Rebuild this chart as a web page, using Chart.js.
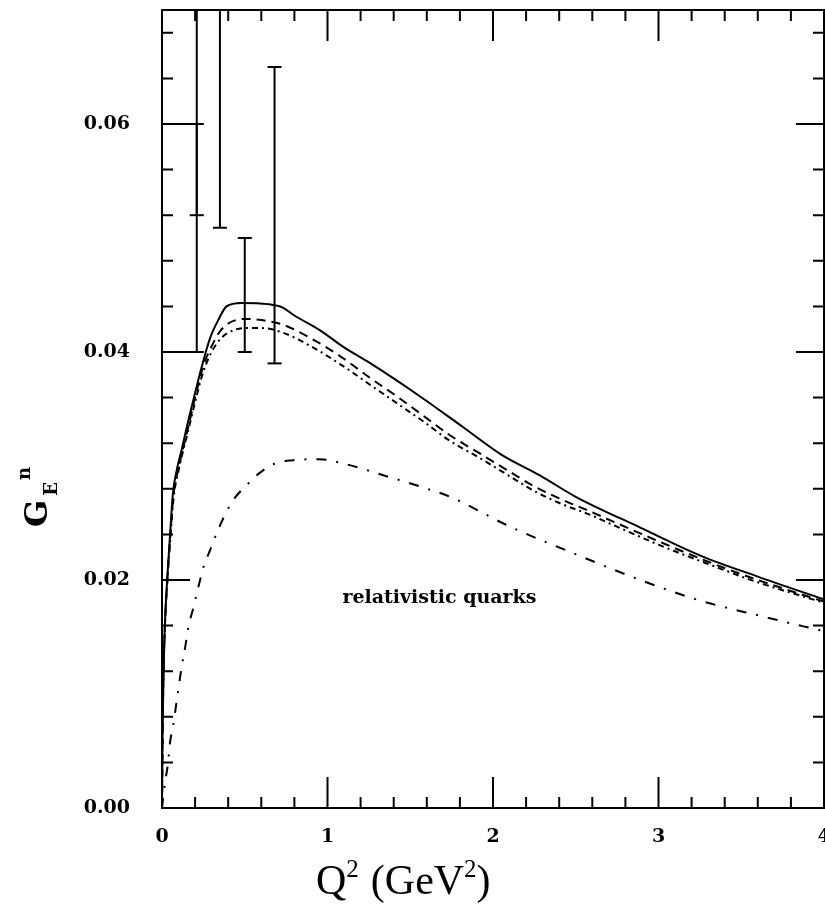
<!DOCTYPE html>
<html>
<head>
<meta charset="utf-8">
<script src="https://cdn.jsdelivr.net/npm/chart.js@4/dist/chart.umd.min.js"></script>
<style>
  html, body { margin: 0; padding: 0; background: #fff; overflow: hidden; }
  #wrap { width: 825px; height: 918px; overflow: hidden; }
</style>
</head>
<body>
<div id="wrap"><canvas id="gen" width="850" height="918"></canvas></div>
<script>
// Neutron electric form factor vs Q^2, relativistic quark model curves
const solidQ2 = [0, 0.003, 0.008, 0.017, 0.035, 0.048, 0.066, 0.09, 0.12, 0.156, 0.2, 0.24, 0.29, 0.34, 0.39, 0.48, 0.64, 0.73, 0.8, 0.955, 1.1, 1.26, 1.56, 1.82, 2.05, 2.28, 2.5, 2.89, 3.26, 3.6, 4.0];
const solidG  = [0, 0.006, 0.011, 0.0159, 0.0209, 0.0238, 0.0276, 0.0297, 0.0315, 0.0338, 0.0364, 0.0387, 0.0412, 0.0428, 0.044, 0.0443, 0.0442, 0.0439, 0.0432, 0.0419, 0.0404, 0.039, 0.0361, 0.0334, 0.0310, 0.0292, 0.0273, 0.0246, 0.0221, 0.0203, 0.0183];

const dashQ2  = [0, 0.003, 0.008, 0.017, 0.035, 0.05, 0.07, 0.1, 0.16, 0.2, 0.25, 0.3, 0.35, 0.4, 0.5, 0.6, 0.73, 0.9, 1.08, 1.26, 1.42, 1.58, 1.74, 1.92, 2.09, 2.25, 2.41, 2.59, 2.73, 3.0, 3.3, 3.6, 4.0];
const dashAG  = [0, 0.006, 0.011, 0.0158, 0.0207, 0.0238, 0.0275, 0.0298, 0.0335, 0.036, 0.0388, 0.0405, 0.0418, 0.0425, 0.0429, 0.0428, 0.0424, 0.0412, 0.0396, 0.0377, 0.0361, 0.0344, 0.0327, 0.0311, 0.0296, 0.0282, 0.0271, 0.0260, 0.0251, 0.0234, 0.0216, 0.0200, 0.0181];
const dashBG  = [0, 0.006, 0.011, 0.0157, 0.0205, 0.0236, 0.0272, 0.0296, 0.0332, 0.0356, 0.0383, 0.0400, 0.0411, 0.0417, 0.0421, 0.0421, 0.0417, 0.0405, 0.0389, 0.0371, 0.0355, 0.0339, 0.0322, 0.0307, 0.0292, 0.0278, 0.0267, 0.0257, 0.0248, 0.0231, 0.0214, 0.0198, 0.0180];

const dotQ2   = [0, 0.018, 0.036, 0.048, 0.067, 0.09, 0.12, 0.14, 0.16, 0.19, 0.22, 0.25, 0.29, 0.33, 0.38, 0.44, 0.51, 0.59, 0.68, 0.79, 0.95, 1.1, 1.38, 1.56, 1.74, 2.1, 2.51, 2.89, 3.25, 3.63, 4.0];
const dotG    = [0, 0.0022, 0.0039, 0.0057, 0.0072, 0.0095, 0.0125, 0.0141, 0.0159, 0.0176, 0.0194, 0.0211, 0.0226, 0.0241, 0.0257, 0.0272, 0.0283, 0.0294, 0.0302, 0.0305, 0.0306, 0.0302, 0.0290, 0.0282, 0.0273, 0.0247, 0.0222, 0.0200, 0.0182, 0.0168, 0.0155];

// measured points: only the error bars are drawn (upper ends past 0.07 run off the frame)
const errQ2   = [0.21, 0.21, 0.35, 0.50, 0.68];
const errLow  = [0.040, 0.052, 0.0509, 0.040, 0.039];
const errHigh = [0.060, 0.080, 0.080, 0.050, 0.065];

const xTicks = [];
for (let i = 0; i <= 20; i++) xTicks.push(+(i * 0.2).toFixed(1));
const yTicks = [];
for (let i = 0; i <= 17; i++) yTicks.push(+(i * 0.004).toFixed(3));

const noteText = 'relativistic quarks';
const noteQ2 = 1.09, noteG = 0.018;

const isMajor = (v, step) => Math.abs(v / step - Math.round(v / step)) < 1e-6;
const pts = (xs, ys) => xs.map((x, i) => ({ x: x, y: ys[i] }));

const curve = (data, dash) => ({
  data: data,
  borderColor: '#000',
  borderWidth: 2,
  borderDash: dash,
  pointRadius: 0,
  cubicInterpolationMode: 'monotone',
  fill: false
});

const datasets = [
  curve(pts(solidQ2, solidG), []),
  curve(pts(dashQ2, dashAG), [9, 6]),
  curve(pts(dashQ2, dashBG), [6, 4, 2, 4]),
  curve(pts(dotQ2, dotG), [10, 10, 2, 10])
];
errQ2.forEach((q, i) => {
  datasets.push({
    data: [{ x: q, y: errLow[i] }, { x: q, y: errHigh[i] }],
    borderColor: '#000',
    borderWidth: 2,
    pointStyle: 'line',
    pointRadius: 7,
    pointBorderWidth: 2,
    pointBorderColor: '#000'
  });
});

const tickFont = { family: 'DejaVu Serif', size: 19, weight: 'bold' };

// frame with inward ticks on all four sides, plus axis titles and the note
const frame = {
  id: 'frame',
  afterDraw(chart) {
    const { ctx, chartArea: a, scales: { x, y } } = chart;
    ctx.save();
    ctx.strokeStyle = '#000';
    ctx.fillStyle = '#000';
    ctx.lineWidth = 2;
    ctx.strokeRect(a.left, a.top, a.right - a.left, a.bottom - a.top);
    ctx.beginPath();
    x.ticks.forEach(t => {
      const px = x.getPixelForValue(t.value);
      const len = isMajor(t.value, 1) ? 31 : 11;
      ctx.moveTo(px, a.bottom); ctx.lineTo(px, a.bottom - len);
      ctx.moveTo(px, a.top); ctx.lineTo(px, a.top + len);
    });
    y.ticks.forEach(t => {
      const py = y.getPixelForValue(t.value);
      const len = isMajor(t.value, 0.02) ? 28 : 11;
      ctx.moveTo(a.left, py); ctx.lineTo(a.left + len, py);
      ctx.moveTo(a.right, py); ctx.lineTo(a.right - len, py);
    });
    ctx.stroke();

    // note inside the plot
    ctx.font = 'bold 19px "DejaVu Serif"';
    ctx.textBaseline = 'alphabetic';
    ctx.fillText(noteText, x.getPixelForValue(noteQ2), y.getPixelForValue(noteG));

    // x title: Q^2 (GeV^2)
    const big = '42px "Liberation Serif"', small = '25px "Liberation Serif"';
    let cx = 316;
    const base = 894;
    const put = (s, f, dy) => { ctx.font = f; ctx.fillText(s, cx, base + dy); cx += ctx.measureText(s).width; };
    put('Q', big, 0);
    put('2', small, -17);
    cx += 12;
    put('(GeV', big, 0);
    put('2', small, -17);
    put(')', big, 0);

    // y title: G_E^n, rotated
    ctx.translate(47, 527);
    ctx.rotate(-Math.PI / 2);
    ctx.font = 'bold 32px "DejaVu Serif"';
    ctx.fillText('G', 0, 0);
    const gw = ctx.measureText('G').width;
    ctx.font = 'bold 18px "DejaVu Serif"';
    ctx.fillText('E', gw + 4, 10);
    const ew = ctx.measureText('E').width;
    ctx.fillText('n', gw + ew + 6, -17);
    ctx.restore();
  }
};

const chart = new Chart(document.getElementById('gen'), {
  type: 'line',
  data: { datasets: datasets },
  options: {
    responsive: false,
    animation: false,
    layout: { autoPadding: false, padding: { top: 10, right: 26, left: 0, bottom: 0 } },
    plugins: { legend: { display: false }, tooltip: { enabled: false } },
    scales: {
      x: {
        type: 'linear', min: 0, max: 4,
        afterBuildTicks: s => { s.ticks = xTicks.map(v => ({ value: v })); },
        afterFit: s => { s.height = 110; s.paddingLeft = 0; s.paddingRight = 0; },
        grid: { display: false, drawTicks: false },
        border: { display: false },
        ticks: {
          color: '#000', font: tickFont, padding: 18, autoSkip: false, maxRotation: 0,
          callback: v => isMajor(v, 1) ? String(Math.round(v)) : ''
        }
      },
      y: {
        type: 'linear', min: 0, max: 0.07,
        afterBuildTicks: s => { s.ticks = yTicks.map(v => ({ value: v })); },
        afterFit: s => { s.width = 162; s.paddingTop = 0; s.paddingBottom = 0; },
        grid: { display: false, drawTicks: false },
        border: { display: false },
        ticks: {
          color: '#000', font: tickFont, padding: 32, autoSkip: false,
          callback: v => isMajor(v, 0.02) ? v.toFixed(2) : ''
        }
      }
    }
  },
  plugins: [frame]
});
</script>
</body>
</html>
